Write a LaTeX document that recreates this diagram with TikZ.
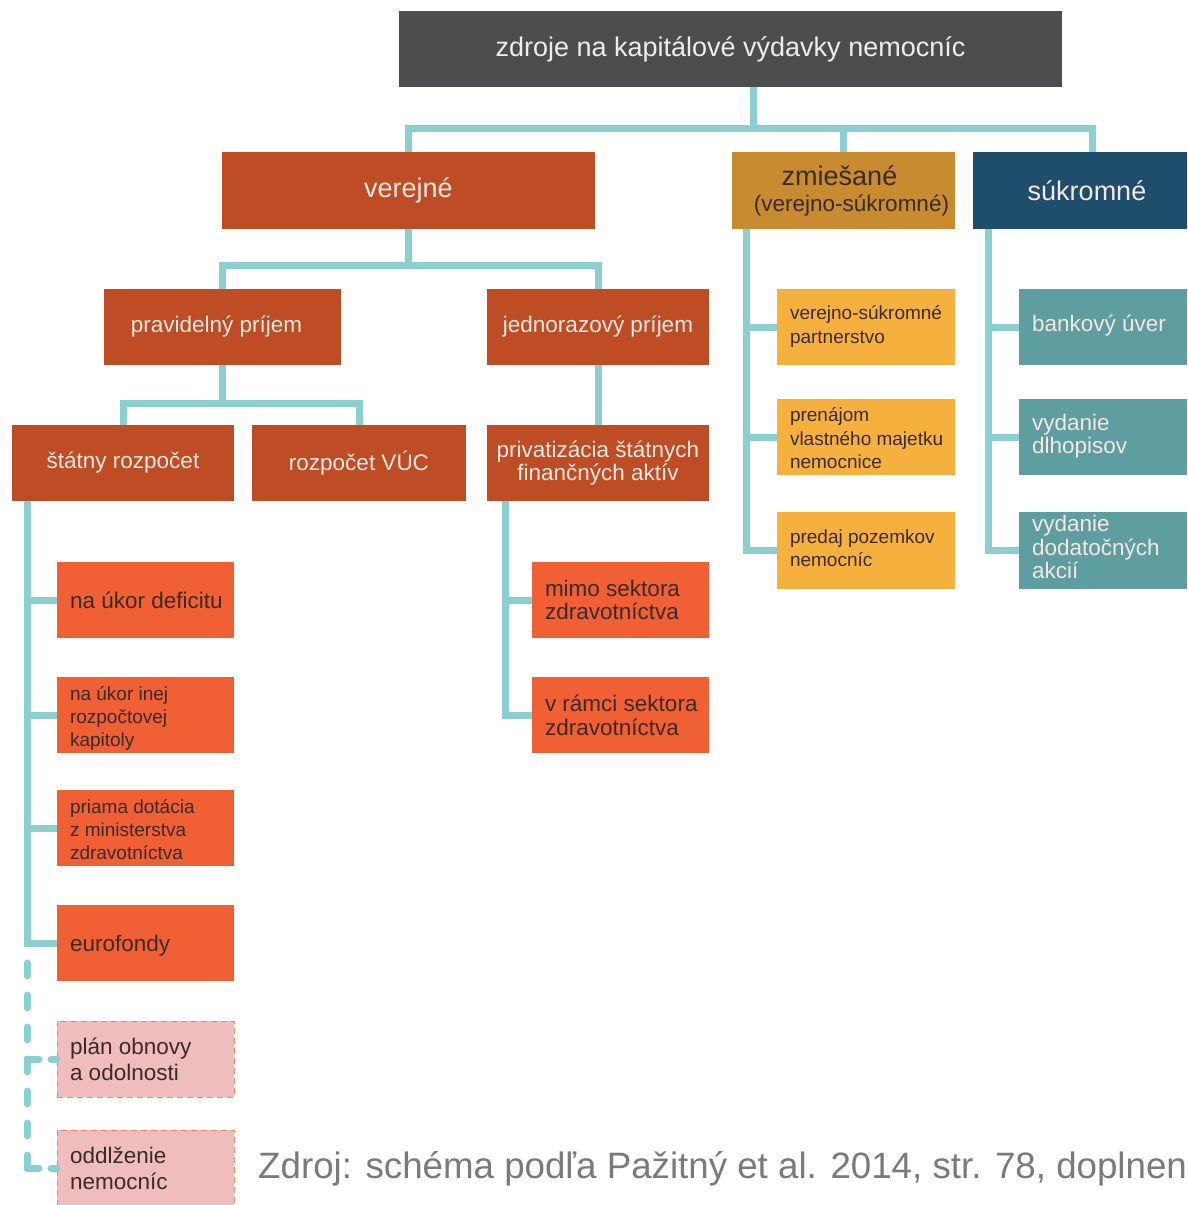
\documentclass[tikz,border=0pt]{standalone}
\usepackage{fontspec}
\setmainfont{Liberation Sans}
\usetikzlibrary{calc}
\definecolor{cGray}{HTML}{4D4D4F}
\definecolor{cRust}{HTML}{BE4D25}
\definecolor{cOrange}{HTML}{F15F35}
\definecolor{cOchre}{HTML}{C98B2F}
\definecolor{cYellow}{HTML}{F6B03D}
\definecolor{cNavy}{HTML}{1F4E6C}
\definecolor{cTeal}{HTML}{5F9EA0}
\definecolor{cPink}{HTML}{F0BDBF}
\definecolor{cPinkBorder}{HTML}{F28A5B}
\definecolor{cLine}{HTML}{8CCFD0}
\definecolor{cLightText}{HTML}{F4E8E2}
\definecolor{cTopText}{HTML}{EDEDED}
\definecolor{cDarkText}{HTML}{3B2B22}
\definecolor{cSrc}{HTML}{7A7A7A}
\newcommand\fsz[2]{\fontsize{#1}{#2}\selectfont}
\newcommand\lbox[2][164pt]{\makebox[#1][l]{\hspace*{6.5pt}\begin{tabular}{@{}l@{}}#2\end{tabular}}}
\newcommand\dbox[2][164pt]{\raisebox{-3.5pt}[\height][\depth]{\lbox[#1]{#2}}}
\begin{document}
\begin{tikzpicture}[x=1pt,y=-1pt,
  box/.style={rectangle,inner sep=0pt,outer sep=0pt,anchor=center},
  ctext/.style={align=center},
  rust/.style={box,fill=cRust,text=cLightText,font=\fsz{22.5}{23}},
  lvfour/.style={box,fill=cOrange,text=cDarkText,minimum width=177pt,minimum height=76pt},
  yel/.style={box,fill=cYellow,text=cDarkText,minimum width=178pt,minimum height=76pt,font=\fsz{19}{23.5}},
  tealb/.style={box,fill=cTeal,text=cLightText,minimum width=176pt,minimum height=76pt,font=\fsz{22.5}{22.5}},
  pinkb/.style={box,fill=cPink,draw=cPinkBorder,line width=1pt,dash pattern=on 6pt off 4pt,text=cDarkText,minimum width=177pt,minimum height=76pt,font=\fsz{22.5}{26}},
  conn/.style={draw=cLine,line width=7pt},
  dspine/.style={conn,line cap=round,dash pattern=on 13pt off 19pt},
  dbranch/.style={conn,line cap=round,dash pattern=on 12pt off 12pt}]
\useasboundingbox (0,0) rectangle (1187,1205);
\clip (0,0) rectangle (1187,1205);
% level 0
\node[box,fill=cGray,text=cTopText,minimum width=663pt,minimum height=76pt,font=\fsz{27}{30}] (top) at (730.5,49) {zdroje na kapitálové výdavky nemocníc};
% level 1
\node[box,fill=cRust,text=cLightText,minimum width=373pt,minimum height=77pt,font=\fsz{27}{30}] (verejne) at (408.5,190.5) {verejné};
\node[box,ctext,fill=cOchre,text=cDarkText,minimum width=223pt,minimum height=77pt] (zmies) at (843.5,190.5) {\fsz{27}{27}zmiešané\hspace*{8pt}\\[8pt]\fsz{22.5}{24}\hspace*{16pt}(verejno-súkromné)};
\node[box,fill=cNavy,text=cLightText,minimum width=228pt,minimum height=77pt,font=\fsz{27}{30}] (sukr) at (1087,190.5) {súkromné};
% level 2
\node[rust,minimum width=237pt,minimum height=76pt] (prav) at (222.5,327) {pravidelný príjem\hspace*{12pt}};
\node[rust,minimum width=222pt,minimum height=76pt] (jedn) at (598,327) {jednorazový príjem};
% level 3
\node[rust,minimum width=222pt,minimum height=76pt] (stat) at (123,463) {štátny rozpočet};
\node[rust,minimum width=214pt,minimum height=76pt] (vuc) at (359,463) {rozpočet VÚC};
\node[rust,ctext,minimum width=222pt,minimum height=76pt] (priv) at (598,463) {privatizácia štátnych\\finančných aktív};
% level 4 under state budget
\node[lvfour,font=\fsz{22.5}{23}] (def) at (145.5,600) {\dbox{na úkor deficitu}};
\node[lvfour,font=\fsz{19}{23}] (inej) at (145.5,715) {\dbox{na úkor inej\\rozpočtovej\\kapitoly}};
\node[lvfour,font=\fsz{19}{23}] (prima) at (145.5,828) {\dbox{priama dotácia\\z ministerstva\\zdravotníctva}};
\node[lvfour,font=\fsz{22.5}{23}] (euro) at (145.5,943) {\dbox{eurofondy}};
\node[pinkb] (plan) at (145.5,1059) {\dbox{plán obnovy\\a odolnosti}};
\node[pinkb] (oddl) at (145.5,1168) {\dbox{oddlženie\\nemocníc}};
% level 4 under privatisation
\node[lvfour,font=\fsz{22.5}{23}] (mimo) at (620.5,600) {\dbox{mimo sektora\\zdravotníctva}};
\node[lvfour,font=\fsz{22.5}{23}] (vramci) at (620.5,715) {\dbox{v rámci sektora\\zdravotníctva}};
% mixed
\node[yel] (zm1) at (866,327) {\lbox[165pt]{verejno-súkromné\\partnerstvo}};
\node[yel] (zm2) at (866,437) {\dbox[165pt]{prenájom\\vlastného majetku\\nemocnice}};
\node[yel,minimum height=77pt] (zm3) at (866,550.5) {\lbox[165pt]{predaj pozemkov\\nemocníc}};
% private
\node[tealb] (sk1) at (1107,327) {\lbox[163pt]{bankový úver}};
\node[tealb] (sk2) at (1107,437) {\lbox[163pt]{vydanie\\dlhopisov}};
\node[tealb,minimum height=77pt] (sk3) at (1107,550.5) {\lbox[163pt]{vydanie\\dodatočných\\akcií}};
% source
\node[anchor=base west,inner sep=0pt,text=cSrc,font=\fsz{36.7}{40}] (src) at (258,1178) {Zdroj: schéma podľa Pažitný et al. 2014, str. 78, doplnen};
% connectors
\coordinate (h1) at (753,128);
\draw[conn] (top.south -| h1) -- (h1);
\draw[conn] (verejne.north) |- (h1) -| (zmies.north);
\draw[conn] (h1) -| ($(sukr.north)+(5,0)$);
\coordinate (h2) at (408.5,265);
\draw[conn] (verejne.south) -- (h2);
\draw[conn] (prav.north) |- (h2) -| (jedn.north);
\coordinate (h3) at (222.5,403);
\draw[conn] (prav.south) -- (h3);
\draw[conn] (stat.north) |- (h3) -| (vuc.north);
\draw[conn] (jedn.south) -- (priv.north);
% state budget spine
\coordinate (s1) at ($(stat.south west)+(15,0)$);
\draw[conn] (s1) |- (def.west);
\draw[conn] (s1) |- (inej.west);
\draw[conn] (s1) |- (prima.west);
\draw[conn] (s1) |- (euro.west);
\coordinate (s1d) at ($(s1 |- oddl.west)+(0,-205)$);
\draw[dspine] (s1d) -- (s1 |- oddl.west);
\draw[dbranch] (s1 |- plan.west) -- (plan.west);
\draw[dbranch] (s1 |- oddl.west) -- (oddl.west);
% privatisation spine
\coordinate (s2) at ($(priv.south west)+(18,0)$);
\draw[conn] (s2) |- (mimo.west);
\draw[conn] (s2) |- (vramci.west);
% mixed spine
\coordinate (s3) at ($(zmies.south west)+(14,0)$);
\draw[conn] (s3) |- (zm1.west);
\draw[conn] (s3) |- (zm2.west);
\draw[conn] (s3) |- (zm3.west);
% private spine
\coordinate (s4) at ($(sukr.south west)+(15,0)$);
\draw[conn] (s4) |- (sk1.west);
\draw[conn] (s4) |- (sk2.west);
\draw[conn] (s4) |- (sk3.west);
\end{tikzpicture}
\end{document}
